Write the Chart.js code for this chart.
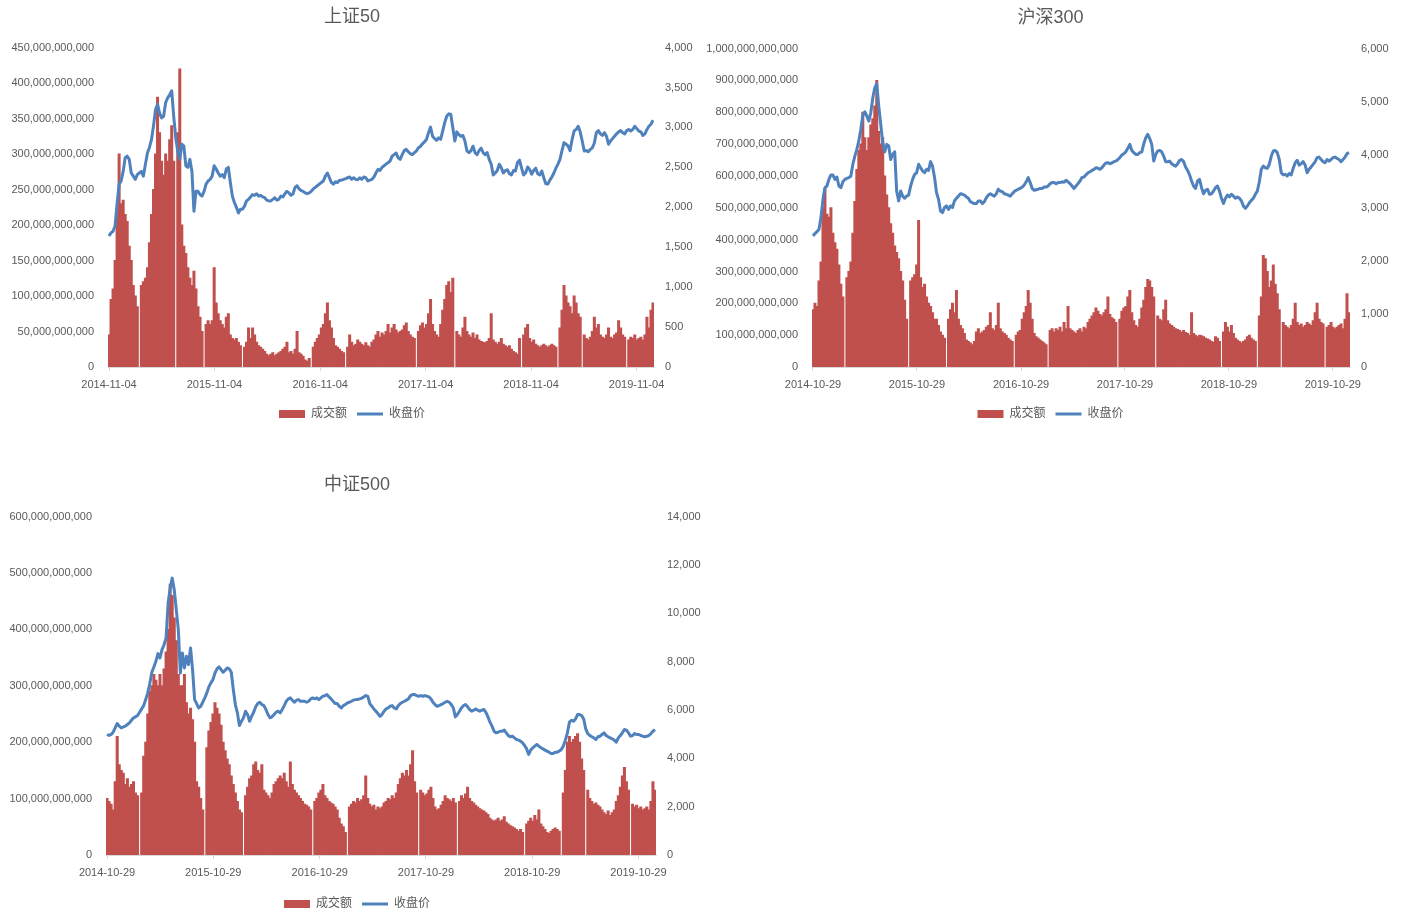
<!DOCTYPE html>
<html>
<head>
<meta charset="utf-8">
<script src="https://cdn.jsdelivr.net/npm/chart.js"></script>
<style>
  html, body { margin: 0; padding: 0; background: #fff; overflow: hidden; }
  canvas { position: absolute; }
</style>
</head>
<body>
<canvas id="c1" width="704" height="430" style="left:0;top:0"></canvas>
<canvas id="c2" width="701" height="430" style="left:700px;top:0"></canvas>
<canvas id="c3" width="714" height="460" style="left:0;top:460px"></canvas>
<script>
"use strict";

// one sample per week, counted from the start date of each index
const WEEK_DAYS = 7;

// 上证50
const sz50Start = '2014-11-04';
const sz50TickLabels = ['2014-11-04', '2015-11-04', '2016-11-04', '2017-11-04', '2018-11-04', '2019-11-04'];
// 成交额 (十亿元), null = 长假休市
const sz50Amount = [
  45, 95, 110, 150, 220, 300, 230, 235, 215, 205,
  170, 150, 115, 100, 85, null, 115, 120, 125, 140,
  175, 215, 250, 300, 380, 330, 290, 270, 300, 290,
  320, 340, 290, null, 330, 420, 200, 170, 160, 140,
  125, 115, 135, 110, 85, 70, 50, null, 60, 65,
  60, 65, 140, 90, 75, 65, 60, 55, 70, 75,
  45, 40, 38, 40, 35, 30, null, 28, 35, 55,
  40, 55, 45, 35, 30, 28, 25, 22, 18, 16,
  18, 20, 16, 18, 20, 22, 25, 28, 35, 20,
  22, 18, 25, 50, 20, 18, 15, 10, 8, 12,
  null, 28, 35, 40, 45, 55, 60, 75, 90, 65,
  55, 40, 30, 28, 25, 22, 20, null, 28, 45,
  35, 30, 32, 38, 35, 32, 30, 34, 30, 28,
  35, 38, 45, 50, 42, 48, 45, 50, 60, 48,
  55, 60, 52, 48, 50, 52, 58, 62, 50, 45,
  42, 40, null, 50, 58, 62, 55, 60, 75, 95,
  60, 50, 45, 42, 60, 80, 95, 115, 120, 105,
  125, null, 50, 45, 42, 55, 70, 50, 45, 42,
  48, 40, 45, 38, 36, 35, 34, 36, 40, 75,
  38, 35, 32, 35, 40, 32, 30, 28, 30, 25,
  22, 20, 18, 40, null, 45, 55, 60, 40, 35,
  38, 32, 30, 28, 30, 32, 30, 28, 30, 32,
  30, 28, null, 55, 80, 115, 100, 90, 85, 75,
  100, 90, 75, 70, null, 45, 40, 38, 42, 50,
  70, 55, 60, 45, 42, 40, 45, 55, 42, 40,
  45, 48, 65, 55, 45, 42, null, 38, 42, 40,
  45, 38, 40, 42, 38, 45, 70, 55, 80, 90
];
const sz50Close = [
  1640, 1680, 1700, 1765, 2050, 2290, 2330, 2450, 2620, 2640,
  2600, 2430, 2390, 2350, 2410, 2430, 2450, 2390, 2540, 2680,
  2750, 2850, 3020, 3220, 3290, 3180, 3120, 3140, 3310, 3370,
  3410, 3460, 3140, 2870, 2700, 2600, 2790, 2770, 2520, 2500,
  2600, 2450, 1950, 2200, 2200, 2160, 2140, 2200, 2290, 2330,
  2350, 2390, 2520, 2480, 2430, 2390, 2410, 2370, 2480, 2500,
  2310, 2140, 2060, 2000, 1930, 1975, 1975, 2015, 2080, 2100,
  2130, 2160, 2150, 2170, 2140, 2150, 2130, 2120, 2090, 2080,
  2080, 2100, 2120, 2090, 2100, 2140, 2130, 2170, 2200, 2180,
  2150, 2170, 2250, 2270, 2230, 2210, 2200, 2180, 2170, 2180,
  2200, 2230, 2250, 2270, 2290, 2310, 2330, 2390, 2430, 2370,
  2310, 2290, 2320, 2310, 2340, 2340, 2350, 2360, 2370, 2380,
  2350, 2370, 2350, 2345, 2370, 2350, 2380, 2370, 2330, 2340,
  2350, 2380, 2430, 2475, 2460, 2500, 2520, 2540, 2560, 2580,
  2640, 2660, 2680, 2620, 2600, 2660, 2710, 2725, 2695, 2670,
  2660, 2685, 2705, 2745, 2765, 2795, 2820, 2850, 2935, 3005,
  2890, 2860, 2840, 2870, 2850, 2955, 3060, 3140, 3170, 3165,
  3000, 2830, 2945, 2910, 2890, 2900, 2830, 2705, 2685, 2710,
  2765, 2685, 2660, 2710, 2740, 2685, 2660, 2685, 2600, 2540,
  2405, 2430, 2460, 2540, 2495, 2430, 2460, 2470, 2420, 2405,
  2460, 2455, 2560, 2590, 2495, 2405, 2430, 2505, 2475, 2415,
  2460, 2490, 2420, 2405, 2455, 2370, 2295, 2290, 2340, 2380,
  2430, 2490, 2540, 2600, 2710, 2810, 2790, 2770, 2710, 2850,
  2955, 2975, 3015, 2945, 2830, 2705, 2710, 2695, 2725, 2745,
  2805, 2935, 2960, 2920, 2900, 2935, 2890, 2790, 2830, 2860,
  2890, 2920, 2945, 2960, 2935, 2920, 2960, 2975, 2955, 2975,
  3015, 2985, 2955, 2945, 2900, 2920, 2975, 3015, 3040, 3090
];

// 沪深300
const hs300Start = '2014-10-29';
const hs300TickLabels = ['2014-10-29', '2015-10-29', '2016-10-29', '2017-10-29', '2018-10-29', '2019-10-29'];
const hs300Amount = [
  180, 200, 190, 270, 330, 500, 560, 480, 470, 500,
  420, 390, 370, 320, 260, 220, null, 280, 300, 330,
  420, 520, 620, 680, 700, 800, 720, 680, 720, 760,
  780, 820, 900, 740, 700, 720, 600, 540, 500, 450,
  420, 380, 360, 340, 300, 270, 210, 150, null, 270,
  280, 290, 320, 460, 280, 250, 260, 220, 200, 190,
  170, 150, 150, 130, 110, 100, 90, null, 150, 180,
  200, 170, 240, 150, 130, 120, 105, 85, 80, 75,
  70, 80, 110, 120, 105, 110, 115, 125, 130, 170,
  120, 115, 130, 200, 120, 110, 105, 100, 90, 85,
  80, null, 100, 110, 115, 150, 170, 190, 240, 200,
  150, 105, 95, 90, 85, 80, 75, 70, null, 115,
  120, 110, 120, 115, 125, 110, 140, 120, 190, 120,
  115, 110, 105, 115, 120, 110, 125, 120, 140, 150,
  160, 170, 185, 175, 165, 160, 170, 180, 220, 165,
  155, 150, 140, null, 150, 175, 185, 190, 220, 240,
  170, 145, 130, 125, 150, 185, 210, 250, 275, 270,
  250, 220, null, 160, 150, 145, 180, 210, 145, 135,
  130, 125, 120, 118, 115, 110, 115, 108, 105, 100,
  170, 105, 100, 95, 100, 98, 95, 90, 88, 85,
  80, 78, 95, 90, 80, null, 110, 140, 125, 110,
  130, 105, 90, 85, 80, 75, 80, 85, 95, 100,
  90, 85, 80, null, 160, 220, 350, 340, 300, 250,
  270, 320, 260, 230, 180, null, 140, 130, 125, 120,
  130, 150, 200, 140, 130, 135, 125, 130, 140, 135,
  130, 145, 170, 200, 150, 140, 135, null, 125, 130,
  140, 125, 120, 125, 130, 135, 120, 150, 230, 170
];
const hs300Close = [
  2470, 2515, 2550, 2595, 2815, 3160, 3380, 3410, 3535, 3620,
  3620, 3535, 3580, 3410, 3380, 3490, 3535, 3555, 3570, 3600,
  3820, 3975, 4100, 4260, 4475, 4745, 4810, 4730, 4635, 4790,
  5070, 5260, 5340, 4915, 4570, 4225, 4055, 4195, 4165, 3910,
  4005, 4055, 3315, 3130, 3315, 3220, 3180, 3220, 3240, 3410,
  3535, 3630, 3660, 3820, 3755, 3695, 3660, 3725, 3705, 3870,
  3785, 3570, 3285, 3160, 2940, 2910, 3005, 3035, 2970, 3035,
  3005, 3130, 3180, 3220, 3265, 3255, 3240, 3205, 3180, 3115,
  3095, 3080, 3080, 3130, 3130, 3080, 3115, 3190, 3240, 3265,
  3240, 3220, 3265, 3350, 3315, 3305, 3265, 3255, 3240, 3220,
  3265, 3305, 3330, 3350, 3365, 3390, 3430, 3490, 3570, 3475,
  3365, 3330, 3340, 3350, 3365, 3365, 3390, 3390, 3410, 3455,
  3475, 3475, 3455, 3475, 3475, 3490, 3480, 3520, 3490, 3455,
  3410, 3365, 3410, 3455, 3505, 3570, 3580, 3620, 3660, 3680,
  3705, 3725, 3755, 3745, 3725, 3755, 3805, 3845, 3850, 3830,
  3845, 3870, 3880, 3910, 3945, 3995, 4020, 4055, 4120, 4195,
  4080, 4040, 4005, 4005, 4040, 4055, 4205, 4320, 4385, 4305,
  4195, 3880, 4005, 4070, 4080, 4055, 3975, 3870, 3870, 3880,
  3830, 3805, 3785, 3830, 3895, 3910, 3870, 3770, 3705, 3620,
  3505, 3410, 3365, 3505, 3535, 3380, 3265, 3330, 3350, 3255,
  3265, 3315, 3380, 3410, 3315, 3180, 3080, 3180, 3240, 3205,
  3255, 3220, 3180, 3205, 3180, 3130, 3035, 2990, 3035, 3095,
  3140, 3180, 3255, 3315, 3490, 3725, 3785, 3755, 3745, 3820,
  3975, 4070, 4080, 4040, 3910, 3660, 3620, 3630, 3600, 3645,
  3620, 3745, 3850, 3895, 3805, 3830, 3870, 3805, 3660, 3725,
  3770, 3820, 3870, 3945, 3955, 3910, 3870, 3850, 3910, 3880,
  3910, 3945, 3955, 3930, 3910, 3870, 3910, 3955, 4020, 4040
];

// 中证500
const zz500Start = '2014-10-29';
const zz500TickLabels = ['2014-10-29', '2015-10-29', '2016-10-29', '2017-10-29', '2018-10-29', '2019-10-29'];
const zz500Amount = [
  100, 95, 90, 80, 130, 210, 160, 150, 145, 125,
  135, 120, 125, 130, 110, 105, null, 110, 175, 200,
  250, 290, 300, 320, 310, 300, 320, 300, 330, 360,
  400, 480, 460, 420, 380, 320, 300, 300, 320, 270,
  250, 260, 240, 200, 130, 120, 100, 80, null, 190,
  220, 235, 250, 270, 260, 250, 230, 200, 185, 170,
  160, 140, 125, 110, 95, 80, 75, null, 105, 120,
  135, 140, 160, 165, 150, 145, 160, 115, 110, 105,
  100, 110, 125, 130, 135, 140, 135, 145, 130, 120,
  165, 125, 115, 110, 105, 100, 95, 90, 88, 85,
  80, null, 95, 100, 110, 115, 125, 105, 100, 95,
  92, 90, 85, 80, 65, 55, 50, 40, null, 85,
  90, 95, 92, 100, 95, 98, 105, 140, 100, 90,
  85, 88, 80, 85, 82, 85, 92, 95, 100, 98,
  105, 100, 110, 125, 135, 145, 140, 150, 140, 160,
  185, 130, 110, null, 115, 110, 105, 108, 115, 120,
  100, 85, 80, 82, 88, 95, 105, 100, 98, 95,
  100, 92, null, 95, 105, 100, 108, 120, 100, 95,
  92, 88, 85, 82, 80, 78, 75, 72, 65, 62,
  60, 62, 65, 60, 62, 68, 58, 55, 52, 50,
  48, 45, 42, 45, 40, null, 55, 60, 65, 60,
  70, 62, 80, 55, 50, 45, 40, 38, 42, 45,
  48, 45, 42, null, 110, 150, 200, 210, 200, 205,
  210, 215, 200, 170, 150, null, 115, 100, 95, 90,
  92, 88, 85, 80, 75, 72, 78, 70, 75, 80,
  95, 105, 120, 140, 155, 130, 115, null, 90, 85,
  88, 82, 85, 80, 82, 85, 80, 95, 130, 115
];
const zz500Close = [
  4985, 4945, 4985, 5080, 5260, 5440, 5330, 5260, 5300, 5330,
  5400, 5465, 5575, 5675, 5715, 5770, 5905, 6045, 6180, 6430,
  6705, 7090, 7560, 7780, 8015, 8330, 8150, 8495, 8700, 8980,
  10425, 11045, 11455, 10975, 10150, 9320, 7530, 8360, 7740, 8220,
  7875, 8565, 7670, 6430, 6265, 6085, 6155, 6320, 6500, 6705,
  6955, 7120, 7255, 7530, 7700, 7780, 7670, 7560, 7640, 7740,
  7700, 7560, 6845, 6225, 5880, 5355, 5535, 5675, 5950, 5810,
  5535, 5740, 5905, 6130, 6265, 6320, 6225, 6180, 6020, 5810,
  5675, 5715, 5810, 5905, 5950, 5880, 6020, 6180, 6360, 6460,
  6500, 6405, 6320, 6405, 6430, 6360, 6360, 6360, 6320, 6360,
  6460, 6500, 6460, 6500, 6430, 6500, 6570, 6595, 6635, 6540,
  6460, 6360, 6265, 6265, 6155, 6085, 6180, 6225, 6295, 6320,
  6360, 6405, 6430, 6430, 6460, 6485, 6540, 6595, 6570, 6265,
  6155, 6045, 5950, 5850, 5740, 5810, 5950, 6045, 6085, 6155,
  6180, 6085, 6045, 6180, 6265, 6320, 6360, 6405, 6460, 6595,
  6635, 6635, 6595, 6570, 6595, 6570, 6595, 6570, 6540, 6460,
  6320, 6225, 6155, 6180, 6225, 6265, 6320, 6360, 6320, 6225,
  6085, 5715, 5810, 5950, 6085, 6180, 6225, 6130, 6020, 5950,
  5990, 6045, 5990, 5950, 5990, 6020, 5905, 5715, 5495, 5330,
  5120, 5055, 5080, 5120, 5120, 5165, 5055, 4945, 4890, 4915,
  4845, 4780, 4750, 4710, 4640, 4530, 4390, 4160, 4340, 4435,
  4505, 4570, 4505, 4435, 4390, 4340, 4295, 4255, 4200, 4200,
  4255, 4255, 4295, 4365, 4505, 4750, 5055, 5495, 5575, 5535,
  5630, 5810, 5810, 5770, 5630, 5220, 5025, 4945, 4890, 4845,
  4780, 4890, 4915, 4985, 5055, 4945, 4890, 4845, 4805, 4750,
  4670, 4845, 4945, 5055, 5190, 5165, 5055, 4915, 4945, 5025,
  4985, 4985, 4945, 4915, 4890, 4915, 4945, 5025, 5120, 5190
];

Chart.defaults.font.family = "'Liberation Sans', 'Noto Sans CJK SC', sans-serif";
Chart.defaults.font.size = 11;
Chart.defaults.color = '#595959';
Chart.defaults.animation = false;
Chart.defaults.plugins.tooltip.enabled = false;

const BAR_COLOR = '#C0504D';
const LINE_COLOR = '#4F81BD';
const AXIS_COLOR = '#D9D9D9';

function daysBetween(a, b) {
    return (Date.parse(b) - Date.parse(a)) / 86400000;
}

function weeklyPoints(values, factor) {
    return values.map((v, i) => ({ x: i * WEEK_DAYS, y: v === null ? null : v * factor }));
}

function fmt(v) {
    return Math.round(v).toLocaleString('en-US');
}

function buildChart(canvasId, c) {
    const tickDays = c.tickLabels.map(l => daysBetween(c.start, l));
    const lastDay = (c.close.length - 1) * WEEK_DAYS;

    return new Chart(document.getElementById(canvasId), {
        type: 'bar',
        data: {
            datasets: [
                {
                    type: 'bar',
                    label: '成交额',
                    data: weeklyPoints(c.amount, 1e9),
                    backgroundColor: BAR_COLOR,
                    borderWidth: 0,
                    barPercentage: 1,
                    categoryPercentage: 1,
                    inflateAmount: 0.5,
                    yAxisID: 'y',
                    order: 1
                },
                {
                    type: 'line',
                    label: '收盘价',
                    data: weeklyPoints(c.close, 1),
                    borderColor: LINE_COLOR,
                    backgroundColor: LINE_COLOR,
                    borderWidth: 3,
                    pointRadius: 0,
                    tension: 0,
                    fill: false,
                    borderJoinStyle: 'round',
                    yAxisID: 'y1',
                    order: 0
                }
            ]
        },
        options: {
            responsive: false,
            devicePixelRatio: 1,
            layout: { padding: { left: 0, right: 0, top: 0, bottom: 0 } },
            plugins: {
                title: {
                    display: true,
                    text: c.title,
                    color: '#595959',
                    font: { size: 18, weight: 'normal' },
                    padding: c.titlePad
                },
                legend: {
                    position: 'bottom',
                    labels: {
                        usePointStyle: true,
                        pointStyleWidth: 26,
                        boxHeight: 8,
                        padding: 10,
                        color: '#595959',
                        font: { size: 12 },
                        sort: (a, b) => a.datasetIndex - b.datasetIndex,
                        generateLabels: (chart) => {
                            const items = Chart.defaults.plugins.legend.labels.generateLabels(chart);
                            items.forEach(it => { it.pointStyle = it.datasetIndex === 0 ? 'rect' : 'line'; });
                            return items;
                        }
                    }
                }
            },
            scales: {
                x: {
                    type: 'linear',
                    bounds: 'data',
                    offset: false,
                    min: -WEEK_DAYS / 2,
                    max: lastDay + WEEK_DAYS / 2,
                    afterBuildTicks: (scale) => { scale.ticks = tickDays.map(v => ({ value: v })); },
                    afterFit: (scale) => { scale.height = c.xHeight; },
                    grid: { display: true, drawOnChartArea: false, drawTicks: true, tickLength: 4, color: AXIS_COLOR, offset: false },
                    border: { display: true, color: AXIS_COLOR },
                    ticks: {
                        autoSkip: false,
                        maxRotation: 0,
                        padding: 7,
                        callback: (v, i) => c.tickLabels[i]
                    }
                },
                y: {
                    position: 'left',
                    min: 0,
                    max: c.leftMax,
                    afterFit: (scale) => { scale.width = c.leftWidth; },
                    grid: { display: false, drawTicks: false },
                    border: { display: false },
                    ticks: { stepSize: c.leftStep, padding: 14, callback: fmt }
                },
                y1: {
                    position: 'right',
                    min: 0,
                    max: c.rightMax,
                    afterFit: (scale) => { scale.width = c.rightWidth; },
                    grid: { display: false, drawTicks: false },
                    border: { display: false },
                    ticks: { stepSize: c.rightStep, padding: 11, callback: fmt }
                }
            }
        }
    });
}

buildChart('c1', {
    title: '上证50', titlePad: { top: 6, bottom: 20 },
    start: sz50Start, tickLabels: sz50TickLabels, amount: sz50Amount, close: sz50Close,
    leftMax: 450e9, leftStep: 50e9, rightMax: 4000, rightStep: 500,
    leftWidth: 108, rightWidth: 50, xHeight: 31
});

buildChart('c2', {
    title: '沪深300', titlePad: { top: 7, bottom: 20 },
    start: hs300Start, tickLabels: hs300TickLabels, amount: hs300Amount, close: hs300Close,
    leftMax: 1000e9, leftStep: 100e9, rightMax: 6000, rightStep: 1000,
    leftWidth: 112, rightWidth: 51, xHeight: 31
});

buildChart('c3', {
    title: '中证500', titlePad: { top: 14, bottom: 21 },
    start: zz500Start, tickLabels: zz500TickLabels, amount: zz500Amount, close: zz500Close,
    leftMax: 600e9, leftStep: 100e9, rightMax: 14000, rightStep: 2000,
    leftWidth: 106, rightWidth: 58, xHeight: 33
});
</script>
</body>
</html>
